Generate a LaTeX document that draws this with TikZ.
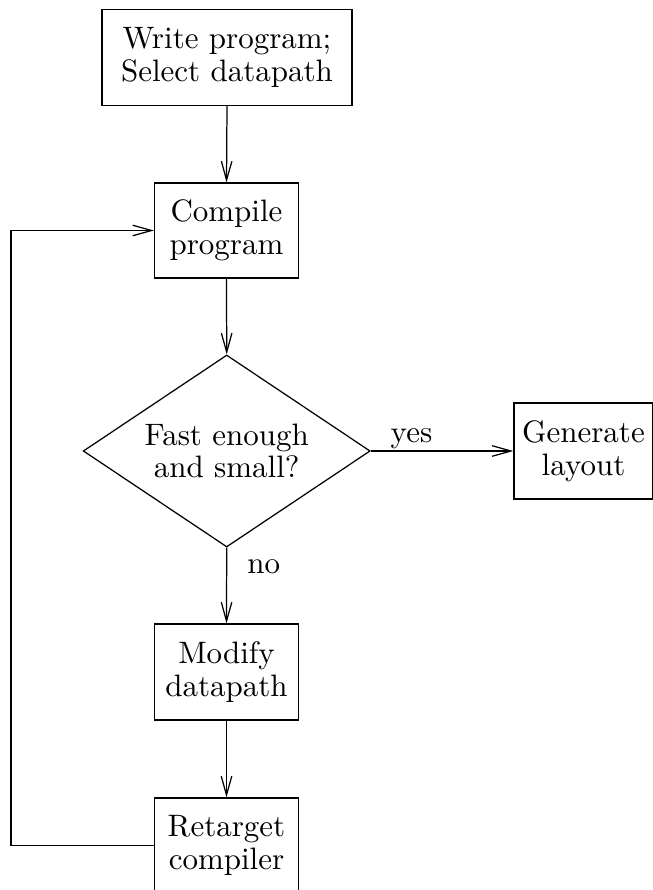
\documentclass[tikz,border=0pt]{standalone}
\usetikzlibrary{shapes.geometric,arrows.meta}
\newcommand\pxu{0.3226pt}
\tikzset{
  pxgrid/.style={x=\pxu,y=-\pxu},
  every node/.style={font=\fontsize{10}{10.5}\selectfont},
  flowbox/.style={draw,rectangle,align=center,inner sep=0pt,line width=0.4pt},
  decide/.style={draw,diamond,inner sep=0pt,line width=0.4pt,
     minimum width={287*\pxu},minimum height={192*\pxu}},
  flow/.style={line width=0.4pt,-{Straight Barb[length=6.1pt,width=3.4pt]}},
  edgelabel/.style={inner sep=0pt}
}
\begin{document}
\begin{tikzpicture}[pxgrid]
\useasboundingbox (0,0) rectangle (652,890);
\node[flowbox,minimum width={250*\pxu},minimum height={96*\pxu}] (write) at (227,57.5) {Write program;\\Select datapath};
\node[flowbox,minimum width={144*\pxu},minimum height={95*\pxu}] (compile) at (226.5,230.5) {Compile\\program};
\node[decide,label={[align=center,inner sep=0pt]center:Fast enough\\and small?}] (test) at (226.7,451) {};
\node[flowbox,minimum width={139*\pxu},minimum height={96*\pxu}] (gen) at (583.5,451) {Generate\\layout};
\node[flowbox,minimum width={144*\pxu},minimum height={96*\pxu}] (modify) at (226.5,672) {Modify\\datapath};
\node[flowbox,minimum width={144*\pxu},minimum height={95*\pxu}] (retarget) at (226.5,845.5) {Retarget\\compiler};
\coordinate (lx) at (11,0);
\draw[flow] (write.south) -- (compile.north);
\draw[flow] (compile.south) -- (test.north);
\draw[flow] (test.east) -- node[edgelabel,pos=0.285,anchor=base,yshift={9*\pxu}] {yes} (gen.west);
\draw[flow] (test.south) -- node[edgelabel,pos=0.25,right,xshift={20*\pxu}] {no} (modify.north);
\draw[flow] (modify.south) -- (retarget.north);
\draw[flow] (retarget.west) -- (retarget.west -| lx) |- (compile.west);
\end{tikzpicture}
\end{document}
